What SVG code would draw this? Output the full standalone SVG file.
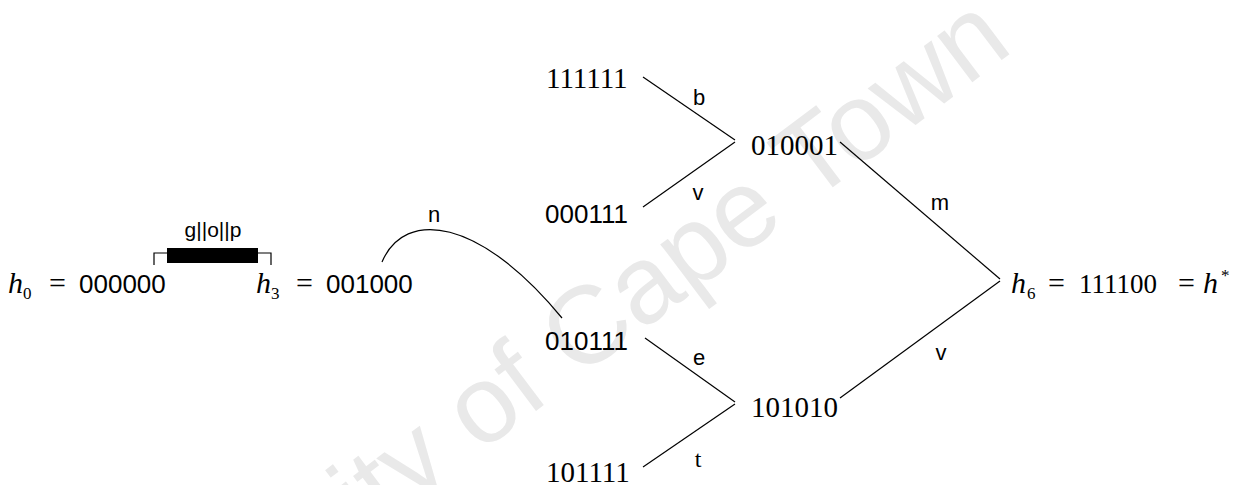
<svg xmlns="http://www.w3.org/2000/svg" width="1236" height="485" viewBox="0 0 1236 485">
<style>
.ser{font-family:"Liberation Serif",serif;font-size:29px;fill:#000}
.san{font-family:"Liberation Sans",sans-serif;font-size:26px;fill:#000}
.hi{font-family:"Liberation Serif",serif;font-style:italic;font-size:30px;fill:#000}
.sub{font-family:"Liberation Serif",serif;font-size:17px;fill:#000}
.eq{font-family:"Liberation Serif",serif;font-size:30px;fill:#000}
.lab{font-family:"Liberation Sans",sans-serif;font-size:22px;fill:#000;text-anchor:middle}
.labs{font-family:"Liberation Serif",serif;font-size:24px;fill:#000;text-anchor:middle}
.edge{stroke:#000;stroke-width:1.2;fill:none}
.wm{font-family:"Liberation Sans",sans-serif;font-size:110px;fill:#e9e9e9}
</style>
<rect width="1236" height="485" fill="#fff"/>
<text class="wm" transform="translate(1015,50) rotate(-37)" text-anchor="end">University of Cape Town</text>
<g id="connectors">
<path class="edge" d="M643,77 L735,140"/>
<path class="edge" d="M735,142 L643,207"/>
<path class="edge" d="M382,262 C405,208 480,218 562,318"/>
<path class="edge" d="M645,338 L735,402"/>
<path class="edge" d="M735,404 L643,467"/>
<path class="edge" d="M840,142 L1000,279"/>
<path class="edge" d="M1000,281 L840,398"/>
<text class="lab" x="699" y="105">b</text>
<text class="lab" x="698" y="200">v</text>
<text class="lab" x="434" y="222">n</text>
<text class="lab" x="699" y="365">e</text>
<text class="labs" x="698" y="467">t</text>
<text class="lab" x="940" y="210">m</text>
<text class="lab" x="941" y="360">v</text>
</g>
<g id="h0">
<text class="hi" x="8" y="293">h</text>
<text class="sub" x="23" y="299">0</text>
<text class="eq" x="49" y="293">=</text>
<text class="san" x="79" y="293">000000</text>
</g>
<g id="gop">
<text class="lab" x="213" y="237" style="font-size:21px">g||o||p</text>
<path class="edge" d="M154,265 V253 H167 M258,253 H271 V265"/>
<rect x="167" y="248" width="91" height="15" fill="#000"/>
</g>
<g id="h3">
<text class="hi" x="256" y="293">h</text>
<text class="sub" x="271" y="299">3</text>
<text class="eq" x="296" y="293">=</text>
<text class="san" x="326" y="293">001000</text>
</g>
<g id="n111111"><text class="ser" x="546" y="88">111111</text></g>
<g id="n000111"><text class="san" x="545" y="223">000111</text></g>
<g id="n010001"><text class="ser" x="751" y="155">010001</text></g>
<g id="n010111"><text class="san" x="545" y="350">010111</text></g>
<g id="n101111"><text class="ser" x="546" y="482">101111</text></g>
<g id="n101010"><text class="ser" x="751" y="417">101010</text></g>
<g id="h6">
<text class="hi" x="1011" y="293">h</text>
<text class="sub" x="1027" y="299">6</text>
<text class="eq" x="1048" y="293">=</text>
<text class="ser" x="1079" y="293" style="font-size:27px">111100</text>
<text class="eq" x="1178" y="293">=</text>
<text class="hi" x="1203" y="293">h</text>
<text class="sub" x="1221" y="281">*</text>
</g>
</svg>
